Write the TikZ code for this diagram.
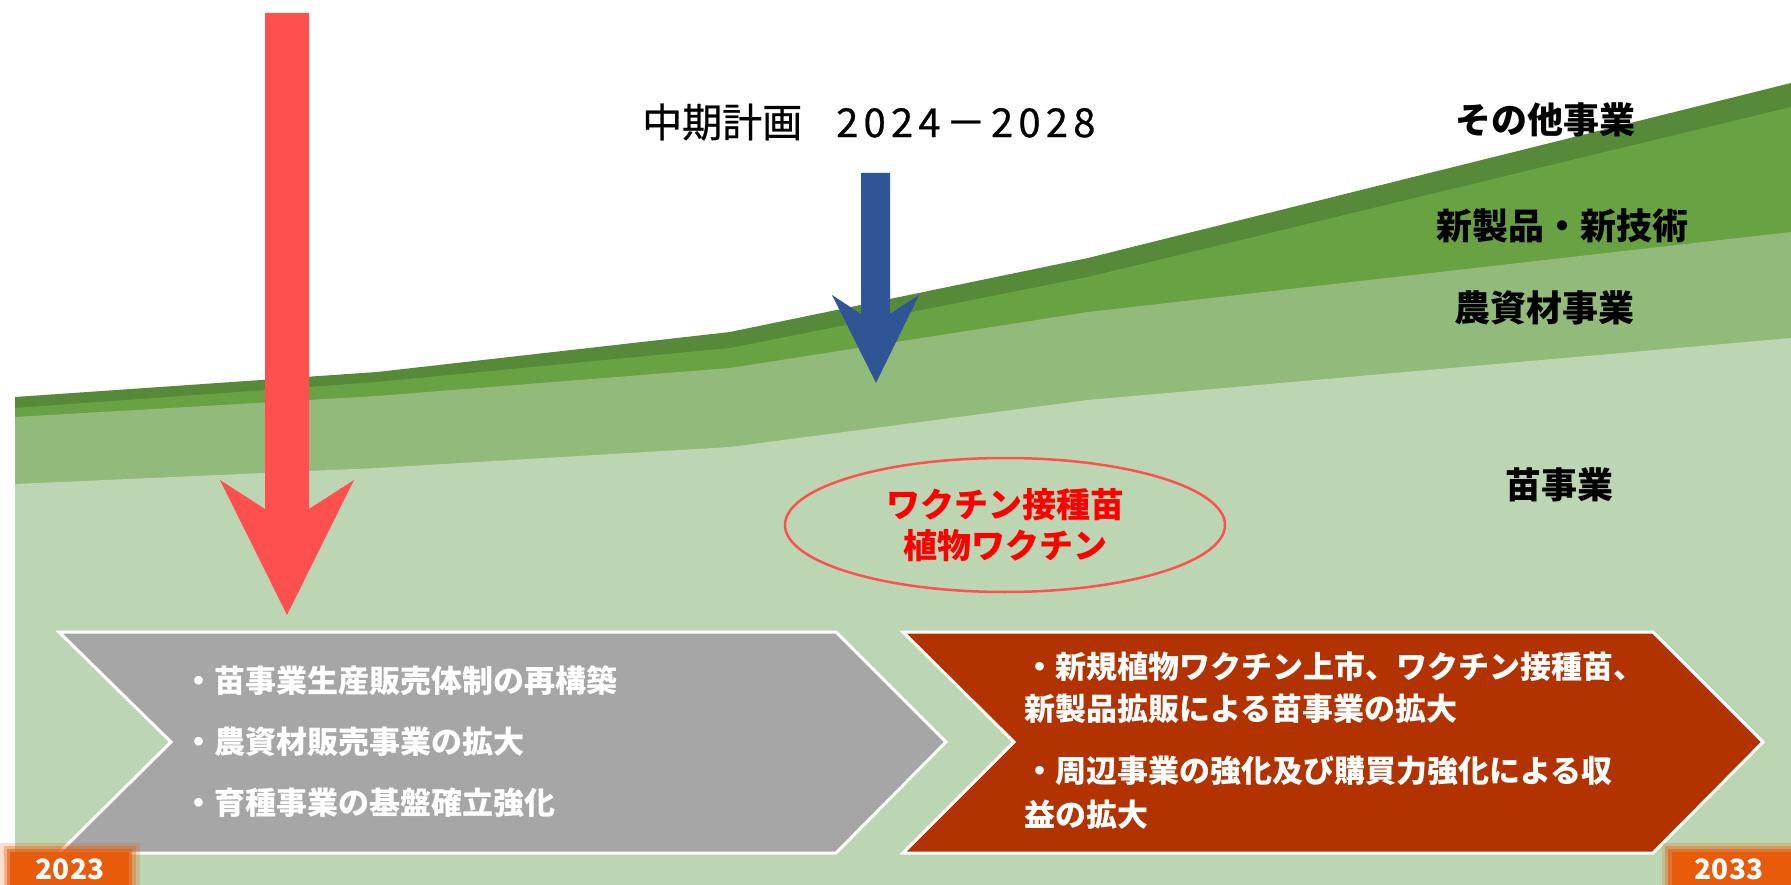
\documentclass[tikz,border=0pt]{standalone}
\usepackage{fontspec}
\usetikzlibrary{shapes.geometric}
\newfontfamily\jp{Noto Sans CJK JP}
\definecolor{gdark}{HTML}{578A38}
\definecolor{gmid}{HTML}{69A243}
\definecolor{glm}{HTML}{92BB7B}
\definecolor{glight}{HTML}{BCD5B3}
\definecolor{redarrow}{HTML}{FF5050}
\definecolor{bluearrow}{HTML}{2F5597}
\definecolor{chevgray}{HTML}{A6A6A6}
\definecolor{chevred}{HTML}{B23200}
\definecolor{yearorange}{HTML}{E85B0A}
\definecolor{vacred}{HTML}{FF0000}
\tikzset{
  lbl/.style={font=\jp\bfseries\fontsize{36}{36}\selectfont, text=black, inner sep=0pt},
  chevtext/.style={font=\jp\bfseries\fontsize{31}{31}\selectfont, text=white, anchor=west, inner sep=0pt},
  yeartext/.style={font=\jp\bfseries\fontsize{28}{28}\selectfont, text=white, inner sep=0pt},
  chevbox/.style={draw=white, line width=3pt, line join=miter},
}
\begin{document}
\begin{tikzpicture}[x=1pt, y=-1pt]
\useasboundingbox (0,0) rectangle (1791,885);
\fill[white] (0,0) rectangle (1791,885);
% stacked green areas
\fill[gdark] (15,397) -- (377,372) -- (730,332) -- (1088,258) -- (1791,83) -- (1791,885) -- (15,885) -- cycle;
\fill[gmid] (15,408) -- (377,382) -- (730,348) -- (1088,277) -- (1791,107) -- (1791,885) -- (15,885) -- cycle;
\fill[glm] (15,417) -- (377,396) -- (730,368) -- (1088,312) -- (1791,232) -- (1791,885) -- (15,885) -- cycle;
\fill[glight] (15,484) -- (377,468) -- (730,447) -- (1088,400) -- (1791,338) -- (1791,885) -- (15,885) -- cycle;
% red arrow
\fill[redarrow] (265,13) -- (309,13) -- (309,509) -- (354,480) -- (287,615) -- (220,480) -- (265,509) -- cycle;
% blue arrow
\fill[bluearrow] (861,173) -- (890,173) -- (890,314) -- (919,295) -- (876,383) -- (832,295) -- (861,314) -- cycle;
% title
\node[anchor=west, inner sep=0pt, font=\jp\fontsize{40}{40}\selectfont] (title) at (642,122)
  {\addfontfeature{FakeBold=0.6}中期計画\hspace{34pt}{\addfontfeature{LetterSpace=13}2024－2028}};
% layer labels
\node[lbl] (other) at (1545,120) {その他事業};
\node[lbl] (newprod) at (1562,226) {新製品・新技術};
\node[lbl] (agri) at (1544,308) {農資材事業};
\node[lbl] (seed) at (1559,485) {苗事業};
% ellipse
\node[ellipse, draw=redarrow, line width=2.5pt, minimum width=440pt, minimum height=134pt,
  align=center, text=vacred, font=\jp\bfseries\fontsize{34}{41}\selectfont] (vac) at (1005,525)
  {ワクチン接種苗\\植物ワクチン};
% chevrons
\draw[chevbox, fill=chevgray] (59,632) -- (836,632) -- (946,742) -- (836,853) -- (59,853) -- (171,742) -- cycle;
\draw[chevbox, fill=chevred] (903,632) -- (1653,632) -- (1763,742) -- (1653,853) -- (903,853) -- (1014,742) -- cycle;
\node[chevtext] (g1) at (183,681) {・苗事業生産販売体制の再構築};
\node[chevtext] (g2) at (183,742) {・農資材販売事業の拡大};
\node[chevtext] (g3) at (183,803) {・育種事業の基盤確立強化};
\node[chevtext] (r1) at (1024,667) {・新規植物ワクチン上市、ワクチン接種苗、};
\node[chevtext] (r2) at (1024,709) {新製品拡販による苗事業の拡大};
\node[chevtext] (r3) at (1024,771) {・周辺事業の強化及び購買力強化による収};
\node[chevtext] (r4) at (1024,815) {益の拡大};
% year boxes
\fill[yearorange, opacity=0.2] (0,843) rectangle (140,885);
\fill[yearorange, opacity=0.35] (4,846) rectangle (136,885);
\fill[yearorange, opacity=0.6] (7,849) rectangle (132,885);
\fill[yearorange] (10,852) rectangle (129,885);
\node[yeartext] (y1) at (70,869) {2023};
\fill[yearorange, opacity=0.2] (1662,843) rectangle (1791,885);
\fill[yearorange, opacity=0.35] (1665,846) rectangle (1791,885);
\fill[yearorange, opacity=0.6] (1668,849) rectangle (1791,885);
\fill[yearorange] (1672,852) rectangle (1791,885);
\node[yeartext] (y2) at (1729,869) {2033};
\end{tikzpicture}
\end{document}
